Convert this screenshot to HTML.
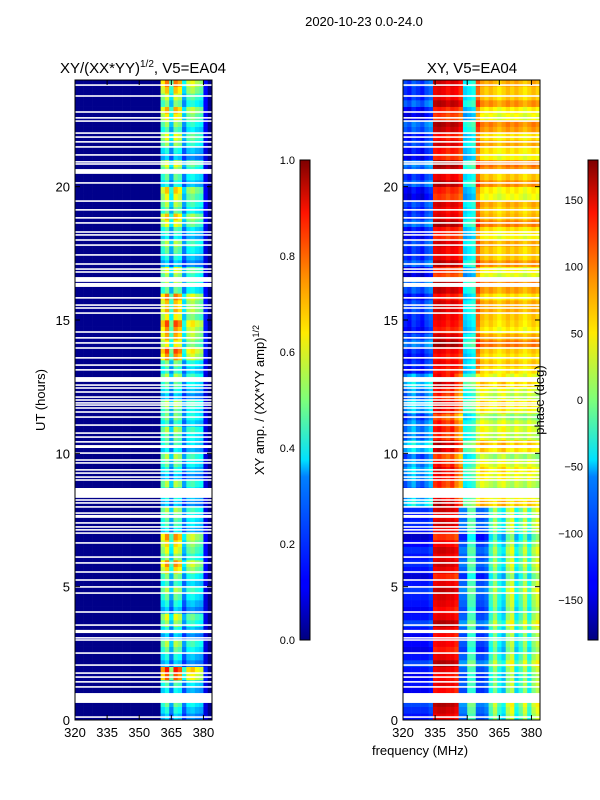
<!DOCTYPE html>
<html><head><meta charset="utf-8">
<style>
html,body{margin:0;padding:0;background:#fff;}
svg{display:block;font-family:"Liberation Sans","DejaVu Sans",sans-serif;}
</style></head>
<body>
<svg id="fig" width="600" height="800" viewBox="0 0 600 800" xmlns="http://www.w3.org/2000/svg">
<defs>
<linearGradient id="jet" x1="0" y1="1" x2="0" y2="0">
<stop offset="0" stop-color="#00007f"/><stop offset="0.11" stop-color="#0000ff"/>
<stop offset="0.125" stop-color="#0000ff"/><stop offset="0.34" stop-color="#0080ff"/>
<stop offset="0.375" stop-color="#00e0ff"/><stop offset="0.5" stop-color="#7dff7a"/>
<stop offset="0.64" stop-color="#ffea00"/><stop offset="0.75" stop-color="#ff9400"/>
<stop offset="0.89" stop-color="#ff1300"/><stop offset="1" stop-color="#7f0000"/>
</linearGradient>
</defs>
<text x="364" y="26" font-size="13" text-anchor="middle">2020-10-23 0.0-24.0</text>
<text x="143" y="73" font-size="15" text-anchor="middle">XY/(XX*YY)<tspan font-size="10" dy="-6">1/2</tspan><tspan dy="6">, V5=EA04</tspan></text>
<text x="472" y="73" font-size="15" text-anchor="middle">XY, V5=EA04</text>
<g id="leftPlot"></g>
<g id="rightPlot"></g>
<g id="axes"></g>
<text transform="translate(45,400) rotate(-90)" font-size="13" text-anchor="middle">UT (hours)</text>
<text x="420" y="755" font-size="13" text-anchor="middle">frequency (MHz)</text>
<rect x="300" y="160" width="10" height="480" fill="url(#jet)" stroke="#000" stroke-width="1"/>
<rect x="588" y="160" width="10" height="480" fill="url(#jet)" stroke="#000" stroke-width="1"/>
<text transform="translate(264,400) rotate(-90)" font-size="13" text-anchor="middle">XY amp. / (XX*YY amp)<tspan font-size="9" dy="-5">1/2</tspan></text>
<text transform="translate(544,400) rotate(-90)" font-size="13" text-anchor="middle">phase (deg)</text>
</svg>
<script>
// ---- data ----
const freqStart = 320, freqStep = 2, nChan = 32;
const ampColumns = [0.01,0.01,0.01,0.01,0.01,0.01,0.01,0.01,0.01,0.01,0.01,0.01,0.01,0.01,0.01,0.01,0.01,0.01,0.01,0.01,0.42,0.5,0.3,0.5,0.46,0.25,0.38,0.4,0.36,0.34,0.1,0.01];
const ampRowGain = [0.9,0.9,1.0,1.5,0.9,0.9,0.9,1.0,0.9,0.9,1.1,1.25,1.3,1.25,1.0,0.9,0.9,0.9,0.9,0.9,1.0,0.9,1.1,0.9,0.9,0.9,1.1,1.4,1.5,1.4,1.5,1.3,1.2,1.0,0.9,0.9,1.0,1.15,1.2,1.15,1.05,1.0,0.9,1.0,1.15,1.2,1.25,1.3];
const phaseUpper = [-120,-130,-110,-120,-130,-110,-100,140,145,140,130,140,135,120,-60,-50,-40,100,70,60,70,60,50,60,70,60,70,60,50,60,70,60];
const phaseMid   = [-100,-80,-60,-90,-100,-80,-60,130,140,125,115,130,100,80,-40,-30,-20,30,50,40,30,20,40,50,30,20,40,30,20,40,30,20];
const phaseLower = [-130,-130,-130,-130,-130,-130,-120,140,145,145,140,140,130,-100,-100,-20,-20,-110,-110,-100,-30,10,-40,-60,10,30,-50,-20,20,-40,10,30];
const phaseRowShift = [10,10,-10,0,10,-15,0,10,-10,15,-10,0,10,-15,0,10,20,-20,15,-10,20,0,-15,10,0,15,-10,0,20,-15,10,0,15,-20,10,0,-10,15,0,-15,10,20,-10,0,15,-15,10,0];
const gapHours = [[23.78,23.84],[23.37,23.43],[22.77,22.83],[22.55,22.61],[22.43,22.49],[21.98,22.04],[21.83,21.89],[21.65,21.71],[21.46,21.52],[21.16,21.22],[20.9,20.96],[20.82,20.88],[20.48,20.66],[20.11,20.17],[19.43,19.49],[19.1,19.16],[18.8,18.86],[18.61,18.67],[18.27,18.33],[18.16,18.22],[17.97,18.03],[17.78,17.84],[17.41,17.47],[17.07,17.13],[16.88,16.94],[16.77,16.83],[16.43,16.61],[16.24,16.39],[15.8,15.86],[15.53,15.59],[15.42,15.48],[15.23,15.29],[14.52,14.58],[14.3,14.36],[14.11,14.17],[13.92,13.98],[13.55,13.61],[13.28,13.34],[13.1,13.16],[12.68,12.86],[12.53,12.59],[12.42,12.48],[12.27,12.33],[12.08,12.14],[11.97,12.03],[11.86,11.92],[11.78,11.84],[11.67,11.73],[11.52,11.58],[11.33,11.39],[11.03,11.09],[10.73,10.79],[10.58,10.64],[10.4,10.46],[10.2,10.31],[9.98,10.04],[9.72,9.78],[9.61,9.67],[9.35,9.41],[9.23,9.29],[9.08,9.14],[8.97,9.03],[8.33,8.7],[8.22,8.28],[8.11,8.17],[7.96,8.02],[7.73,7.79],[7.58,7.69],[7.36,7.42],[7.21,7.27],[7.1,7.16],[6.98,7.04],[6.61,6.67],[6.08,6.14],[5.86,5.92],[5.52,5.58],[5.22,5.28],[4.96,5.02],[4.73,4.79],[4.02,4.08],[3.53,3.59],[3.26,3.38],[3.05,3.11],[2.97,3.03],[2.48,2.54],[2.03,2.09],[1.73,1.79],[1.58,1.64],[1.4,1.46],[1.21,1.27],[0.64,1.01],[0.08,0.14]];
const yTicks = [0,5,10,15,20];
const xTicks = [320,335,350,365,380];
const ampTicks = [0.0,0.2,0.4,0.6,0.8,1.0];
const phaseTicks = [-150,-100,-50,0,50,100,150];

// ---- scales ----
const NS='http://www.w3.org/2000/svg';
const yOf = h => 720 - h*(640/24);
function xOf(f, x0){ return x0 + (f-320)*(137/64); }
const ampY = v => 640 - v*480;
const phY = p => 400 - p*(480/360);
function jet(v){
  v=Math.max(0,Math.min(1,v));
  const r=Math.max(0,Math.min(1,1.5-Math.abs(4*v-3)));
  const g=Math.max(0,Math.min(1,1.5-Math.abs(4*v-2)));
  const b=Math.max(0,Math.min(1,1.5-Math.abs(4*v-1)));
  return `rgb(${Math.round(r*255)},${Math.round(g*255)},${Math.round(b*255)})`;
}
function mk(tag, attrs, parent){ const e=document.createElementNS(NS,tag); for(const k in attrs) e.setAttribute(k,attrs[k]); parent.appendChild(e); return e; }

const L=document.getElementById('leftPlot'), R=document.getElementById('rightPlot');
const rowH=0.25, nRows=96;
for(let r=0;r<nRows;r++){
  const h0=r*rowH, h1=h0+rowH, bin=Math.floor(h0*2);
  const prof = h0>=13?phaseUpper:(h0>=8?phaseMid:phaseLower);
  const wig = ((r%4)-1.5)*0.05;
  for(let c=0;c<nChan;c++){
    const f0=freqStart+c*freqStep, f1=f0+freqStep;
    const a=mk('rect',{x:xOf(f0,75),y:yOf(h1),width:xOf(f1,75)-xOf(f0,75)+0.3,height:yOf(h0)-yOf(h1)+0.3,fill:jet(ampColumns[c]*(ampRowGain[bin]+(ampColumns[c]>0.1?wig*3:0)))},L);
    
    
    let p=prof[c]+phaseRowShift[bin]+((r%3)-1)*10;
    p=Math.max(-175,Math.min(175,p));
    const b=mk('rect',{x:xOf(f0,403),y:yOf(h1),width:xOf(f1,403)-xOf(f0,403)+0.3,height:yOf(h0)-yOf(h1)+0.3,fill:jet((p+180)/360)},R);
    
    
  }
}
for(const g of gapHours){
  for(const x0 of [75,403]){
    const e=mk('rect',{x:x0,y:yOf(g[1]),width:137,height:Math.max(1.2,yOf(g[0])-yOf(g[1])),fill:'#fff'},x0===75?L:R);
    
    
  }
}
const A=document.getElementById('axes');
for(const x0 of [75,403]){
  const fr=mk('rect',{x:x0,y:80,width:137,height:640,fill:'none',stroke:'#000','stroke-width':1},A);
  
  
  for(const t of yTicks){
    const y=yOf(t);
    mk('line',{x1:x0,x2:x0+5,y1:y,y2:y,stroke:'#000'},A);
    mk('line',{x1:x0+137,x2:x0+132,y1:y,y2:y,stroke:'#000'},A);
    const tx=mk('text',{x:x0-5,y:y+5,'font-size':13,'text-anchor':'end'},A);
    tx.textContent=t;
    
    
  }
  for(const t of xTicks){
    const x=xOf(t,x0);
    mk('line',{x1:x,x2:x,y1:720,y2:715,stroke:'#000'},A);
    mk('line',{x1:x,x2:x,y1:80,y2:85,stroke:'#000'},A);
    const tx=mk('text',{x:x,y:737,'font-size':13,'text-anchor':'middle'},A);
    tx.textContent=t;
    
    
  }
}
for(const t of ampTicks){
  const y=ampY(t);
  mk('line',{x1:300,x2:304,y1:y,y2:y,stroke:'#000'},A);
  mk('line',{x1:310,x2:306,y1:y,y2:y,stroke:'#000'},A);
  const tx=mk('text',{x:295,y:y+4,'font-size':11,'text-anchor':'end'},A);
  tx.textContent=t.toFixed(1);
  
  
}
for(const t of phaseTicks){
  const y=phY(t);
  mk('line',{x1:588,x2:592,y1:y,y2:y,stroke:'#000'},A);
  mk('line',{x1:598,x2:594,y1:y,y2:y,stroke:'#000'},A);
  const tx=mk('text',{x:583,y:y+4,'font-size':11,'text-anchor':'end'},A);
  tx.textContent=t<0?'\u2212'+(-t):t;
  
  
}
</script>
</body></html>
